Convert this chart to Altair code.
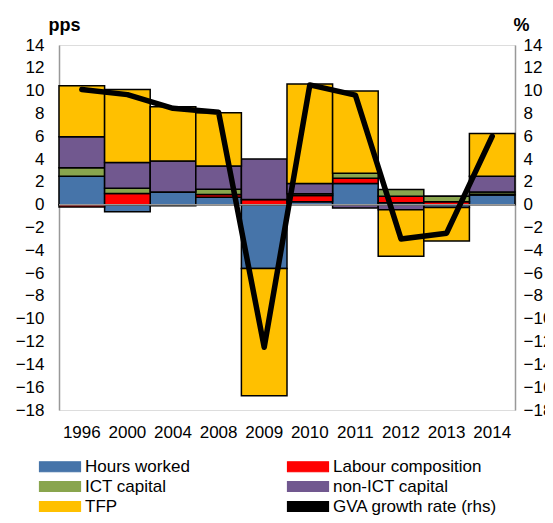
import altair as alt
import pandas as pd

years = ["1996", "2000", "2004", "2008", "2009", "2010", "2011", "2012", "2013", "2014"]
hours = [2.5, -0.63, 1.12, 0.65, -5.6, 0.25, 1.86, 0.18, -0.25, 0.85]
labour = [-0.2, 0.98, -0.1, 0.25, 0.45, 0.55, 0.45, 0.55, 0.25, 0.07]
ict = [0.73, 0.47, 0.0, 0.45, 0.0, 0.15, 0.45, 0.6, 0.5, 0.2]
nonict = [2.72, 2.25, 2.72, 2.05, 3.55, 0.91, -0.3, -0.45, 0.0, 1.38]
tfp = [4.47, 6.4, 4.74, 4.67, -11.15, 8.71, 7.2, -4.07, -2.93, 3.75]
gva = [10.1, 9.65, 8.45, 8.1, -12.5, 10.5, 9.6, -3.0, -2.5, 6.0]

components = ["Hours worked", "Labour composition", "ICT capital", "non-ICT capital", "TFP"]
comp_values = [hours, labour, ict, nonict, tfp]
line_name = "GVA growth rate (rhs)"
series_names = ["Hours worked", "Labour composition", "ICT capital", "non-ICT capital", "TFP", line_name]
series_colors = ["#4674A9", "#FF0000", "#89A54E", "#71588F", "#FFC000", "#000000"]

rows = []
for ci, (name, vals) in enumerate(zip(components, comp_values)):
    for y, v in zip(years, vals):
        rows.append({"year": y, "series": name, "value": v, "idx": ci})
bar_df = pd.DataFrame(rows)
line_df = pd.DataFrame({"year": years, "gva": gva, "series": [line_name] * len(years)})
zero_df = pd.DataFrame({"z": [0]})

FONT = "Liberation Sans"
FS = 17
ydom = [-18, 14]
ticks = list(range(-18, 16, 2))

RECT = "M-1,-1H7.2V1H-1Z"

color = alt.Color(
    "series:N",
    scale=alt.Scale(domain=series_names, range=series_colors),
    legend=alt.Legend(
        title=None,
        orient="none",
        direction="horizontal",
        legendX=-23,
        legendY=413,
        columns=2,
        columnPadding=94,
        rowPadding=2,
        padding=0,
        symbolType=RECT,
        symbolSize=100,
        symbolStrokeColor="black",
        symbolStrokeWidth=1.2,
        labelFontSize=FS,
        labelFont=FONT,
        labelColor="black",
        labelOffset=32,
        labelLimit=300,
    ),
)

xenc = alt.X(
    "year:N",
    sort=years,
    scale=alt.Scale(paddingInner=0, paddingOuter=0),
    axis=alt.Axis(title=None, labelAngle=0, ticks=False, domain=False,
                  labelPadding=14, labelFontSize=FS, labelFont=FONT, labelColor="black"),
)

bars = alt.Chart(bar_df).mark_bar(stroke="black", strokeWidth=1.5).encode(
    x=xenc,
    y=alt.Y(
        "value:Q",
        stack="zero",
        scale=alt.Scale(domain=ydom, nice=False, zero=False),
        axis=alt.Axis(values=ticks, title="pps", grid=False, ticks=False,
                      domainColor="#999999", domainWidth=1.5,
                      labelPadding=15, labelFontSize=FS, labelFont=FONT, labelColor="black",
                      titleAngle=0, titleX=5, titleY=-15, titleAlign="center",
                      titleBaseline="alphabetic", titleFontSize=18, titleFont=FONT,
                      titleFontWeight="bold", titleColor="black"),
    ),
    color=color,
    order=alt.Order("idx:Q"),
)

zero_rule = alt.Chart(zero_df).mark_rule(color="#999999", strokeWidth=1.5).encode(
    y=alt.Y("z:Q", scale=alt.Scale(domain=ydom, nice=False, zero=False), axis=None),
)

line = alt.Chart(line_df).mark_line(strokeWidth=5.5, strokeJoin="round", strokeCap="round").encode(
    x=alt.X("year:N", sort=years),
    y=alt.Y(
        "gva:Q",
        scale=alt.Scale(domain=ydom, nice=False, zero=False),
        axis=alt.Axis(orient="right", values=ticks, title="%", grid=False, ticks=False,
                      domainColor="#999999", domainWidth=1.5,
                      labelPadding=8, labelFontSize=FS, labelFont=FONT, labelColor="black",
                      titleAngle=0, titleX=6, titleY=-15, titleAlign="center",
                      titleBaseline="alphabetic", titleFontSize=18, titleFont=FONT,
                      titleFontWeight="bold", titleColor="black"),
    ),
    color=color,
)

chart = alt.layer(bars, zero_rule, line).resolve_scale(y="independent").properties(
    width=456, height=365,
    autosize=alt.AutoSizeParams(type="none"),
    padding={"left": 51, "top": 37, "right": 30, "bottom": 105},
).configure_view(stroke=None).configure(font=FONT)

chart.save("out.html", embed_options={"renderer": "svg", "actions": False})
